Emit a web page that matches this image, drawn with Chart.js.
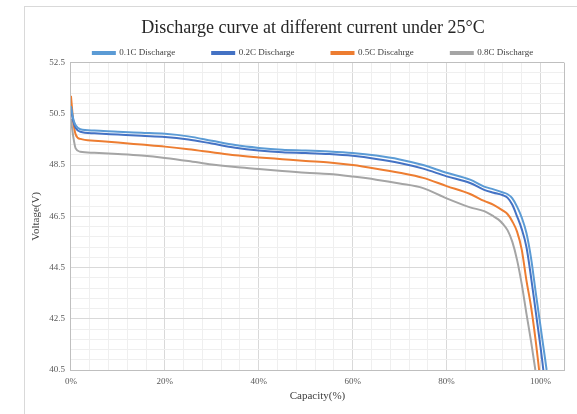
<!DOCTYPE html>
<html>
<head>
<meta charset="utf-8">
<script src="https://cdn.jsdelivr.net/npm/chart.js@4.4.1/dist/chart.umd.min.js"></script>
<style>
  html, body { margin: 0; padding: 0; background: #fff; overflow: hidden; }
  #frame { position: absolute; left: 24px; top: 6px; width: 600px; height: 420px; border-left: 1px solid #d9d9d9; border-top: 1px solid #d9d9d9; }
  #wrap { position: absolute; left: 25px; top: 7px; width: 574px; height: 407px; }
</style>
</head>
<body>
<div id="frame"></div>
<div id="wrap"><canvas id="dischargeChart"></canvas></div>
<script>
// Courbes de décharge (capacité en %, tension en V)
const cap01 = [0, 0.5, 1, 2, 5, 10, 15, 20, 25, 30, 35, 40, 45, 50, 55, 60, 65, 70, 75, 80, 85, 88, 90, 92, 93, 94, 95, 96, 97, 98, 99, 100, 101, 101.3];
const volt01 = [50.8, 50.3, 50.05, 49.9, 49.85, 49.8, 49.76, 49.72, 49.62, 49.45, 49.28, 49.17, 49.1, 49.07, 49.03, 48.97, 48.87, 48.72, 48.5, 48.2, 47.93, 47.66, 47.55, 47.43, 47.36, 47.2, 46.88, 46.45, 45.85, 44.85, 43.5, 42.2, 40.9, 40.5];

const cap02 = [0, 0.5, 1, 2, 5, 10, 15, 20, 25, 30, 35, 40, 45, 50, 55, 60, 65, 70, 75, 80, 85, 88, 90, 92, 93, 94, 95, 96, 97, 98, 99, 100, 100.6];
const volt02 = [50.7, 50.2, 49.95, 49.8, 49.74, 49.69, 49.64, 49.6, 49.5, 49.34, 49.18, 49.07, 49.0, 48.97, 48.93, 48.86, 48.74, 48.58, 48.36, 48.06, 47.8, 47.53, 47.42, 47.32, 47.22, 46.95, 46.5, 46.0, 45.3, 44.1, 42.75, 41.4, 40.5];

const cap05 = [0, 0.5, 1, 2, 5, 10, 15, 20, 25, 30, 35, 40, 45, 50, 55, 60, 65, 70, 75, 80, 85, 88, 90, 92, 93, 94, 95, 96, 97, 98, 99, 99.7];
const volt05 = [51.2, 50.2, 49.7, 49.52, 49.45, 49.38, 49.3, 49.22, 49.12, 49.0, 48.88, 48.8, 48.73, 48.66, 48.6, 48.5, 48.36, 48.2, 48.0, 47.68, 47.37, 47.1, 46.95, 46.72, 46.58, 46.3, 45.9, 45.2, 44.0, 42.95, 41.6, 40.5];

const cap08 = [0, 0.5, 1, 2, 5, 10, 15, 20, 25, 30, 35, 40, 45, 50, 55, 60, 65, 70, 75, 80, 85, 88, 90, 91, 92, 93, 94, 95, 96, 97, 98, 98.9];
const volt08 = [50.3, 49.6, 49.15, 49.02, 48.98, 48.93, 48.87, 48.78, 48.66, 48.52, 48.42, 48.35, 48.27, 48.2, 48.15, 48.05, 47.93, 47.78, 47.6, 47.2, 46.85, 46.7, 46.5, 46.38, 46.2, 45.95, 45.5, 44.8, 43.85, 42.7, 41.6, 40.5];

const seriesLabels = ['0.1C Discharge', '0.2C Discharge', '0.5C Discahrge', '0.8C Discharge'];
const seriesColors = ['#5b9bd5', '#4472c4', '#ed7d31', '#a5a5a5'];

const toPoints = (caps, volts) => caps.map((c, i) => ({ x: c, y: volts[i] }));
const allSeries = [toPoints(cap01, volt01), toPoints(cap02, volt02), toPoints(cap05, volt05), toPoints(cap08, volt08)];

const serif = 'Liberation Serif, Times New Roman, serif';

const ctx = document.getElementById('dischargeChart').getContext('2d');
new Chart(ctx, {
  type: 'line',
  data: {
    datasets: allSeries.map((pts, i) => ({
      label: seriesLabels[i],
      data: pts,
      borderColor: seriesColors[i],
      backgroundColor: seriesColors[i],
      borderWidth: 2,
      pointRadius: 0,
      cubicInterpolationMode: 'monotone',
      fill: false,
      yAxisID: 'y'
    }))
  },
  options: {
    responsive: true,
    maintainAspectRatio: false,
    animation: false,
    layout: {
      padding: { left: 3, right: 1, top: 0, bottom: 11 }
    },
    plugins: {
      title: {
        display: true,
        text: 'Discharge curve at different current under 25°C',
        color: '#262626',
        font: { family: serif, size: 18, weight: 'normal' },
        padding: { top: 10, bottom: 0 }
      },
      legend: {
        display: true,
        maxHeight: 24,
        labels: {
          color: '#404040',
          font: { family: serif, size: 9 },
          boxWidth: 22,
          boxHeight: 2,
          padding: 10,
          // espacement comme dans Excel
          generateLabels: chart => {
            const items = Chart.defaults.plugins.legend.labels.generateLabels(chart);
            return items.map((it, i) => {
              if (i < items.length - 1) it.text = it.text + '\u00a0'.repeat(12);
              return it;
            });
          }
        }
      },
      tooltip: { enabled: false }
    },
    scales: {
      x: {
        type: 'linear',
        min: 0,
        max: 105,
        border: { color: '#bfbfbf' },
        grid: {
          drawTicks: false,
          color: c => {
            const v = c.tick.value;
            if (v === 0 || v >= 105) return '#bfbfbf';
            return v % 20 === 0 ? '#d9d9d9' : '#efefef';
          }
        },
        ticks: {
          stepSize: 4,
          autoSkip: false,
          maxRotation: 0,
          padding: 6,
          color: '#595959',
          font: { family: serif, size: 9 },
          callback: value => value % 20 === 0 ? value + '%' : ''
        },
        title: {
          display: true,
          text: 'Capacity(%)',
          color: '#404040',
          font: { family: serif, size: 11 },
          padding: { top: -3, bottom: 0 }
        }
      },
      y: {
        min: 40.5,
        max: 52.5,
        border: { color: '#bfbfbf' },
        grid: {
          drawTicks: false,
          color: c => {
            if (c.index === 0 || c.index === 30) return '#bfbfbf';
            return c.index % 5 === 0 ? '#d9d9d9' : '#efefef';
          }
        },
        ticks: {
          stepSize: 0.4,
          autoSkip: false,
          padding: 6,
          color: '#595959',
          font: { family: serif, size: 9 },
          callback: (value, index) => index % 5 === 0 ? value.toFixed(1) : ''
        },
        title: {
          display: true,
          text: 'Voltage(V)',
          color: '#404040',
          font: { family: serif, size: 11 },
          padding: { top: 2, bottom: 0 }
        }
      },
      // axe vide à droite, juste pour recentrer titre et légende
      yRight: {
        type: 'linear',
        position: 'right',
        min: 0,
        max: 1,
        grid: { display: false },
        border: { display: false },
        ticks: { display: false },
        afterFit: scale => { scale.width = 34; }
      }
    }
  }
});
</script>
</body>
</html>
